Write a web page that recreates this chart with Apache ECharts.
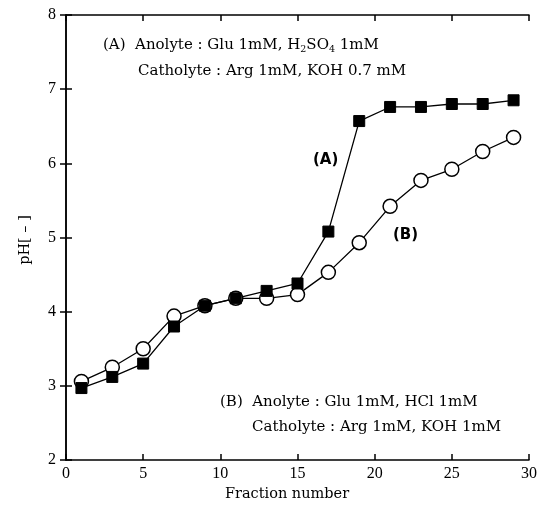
<!DOCTYPE html>
<html>
<head>
<meta charset="utf-8">
<script src="https://cdn.jsdelivr.net/npm/echarts@6/dist/echarts.min.js"></script>
<style>
  html, body { margin: 0; padding: 0; background: #fff; }
  #chart { width: 538px; height: 511px; }
</style>
</head>
<body>
<div id="chart"></div>
<script>
// fraction numbers and measured pH
const fractions = [1, 3, 5, 7, 9, 11, 13, 15, 17, 19, 21, 23, 25, 27, 29];
const phA = [2.97, 3.12, 3.30, 3.80, 4.08, 4.18, 4.28, 4.38, 5.08, 6.57, 6.76, 6.76, 6.80, 6.80, 6.85];
const phB = [3.06, 3.25, 3.50, 3.94, 4.08, 4.18, 4.18, 4.23, 4.53, 4.93, 5.42, 5.77, 5.92, 6.16, 6.35];

const serif = "'DejaVu Serif', 'Liberation Serif', serif";
const labelSerif = "'Liberation Serif', 'DejaVu Serif', serif";
const sans = "'DejaVu Sans', 'Liberation Sans', sans-serif";

const chart = echarts.init(document.getElementById('chart'));

const toPairs = (ys) => fractions.map((x, i) => [x, ys[i]]);

const line = { show: true, lineStyle: { color: '#000', width: 1.5 } };
const tick = () => ({ show: true, inside: true, length: 6, lineStyle: { color: '#000', width: 1.5 } });
const label = (margin) => ({ color: '#000', fontFamily: labelSerif, fontSize: 16, margin: margin });

const option = {
  backgroundColor: '#fff',
  animation: false,
  grid: { left: 66, right: 9, top: 15, bottom: 51, outerBoundsMode: 'none' },
  xAxis: [
    { type: 'value', min: 0, max: 30, interval: 5, position: 'bottom',
      axisLine: line, axisTick: tick(), splitLine: { show: false }, axisLabel: label(6) },
    { type: 'value', min: 0, max: 30, interval: 5, position: 'top',
      axisLine: line, axisTick: tick(), splitLine: { show: false }, axisLabel: { show: false } }
  ],
  yAxis: [
    { type: 'value', min: 2, max: 8, interval: 1, position: 'left',
      axisLine: line, axisTick: tick(), splitLine: { show: false }, axisLabel: label(10) },
    { type: 'value', min: 2, max: 8, interval: 1, position: 'right',
      axisLine: line, axisTick: tick(), splitLine: { show: false }, axisLabel: { show: false } }
  ],
  series: [
    {
      name: 'B', type: 'line', data: toPairs(phB),
      symbol: 'circle', symbolSize: 14,
      lineStyle: { color: '#000', width: 1.3 },
      itemStyle: { color: '#fff', borderColor: '#000', borderWidth: 1.5 }
    },
    {
      name: 'A', type: 'line', data: toPairs(phA),
      symbol: 'rect', symbolSize: 11,
      lineStyle: { color: '#000', width: 1.3 },
      itemStyle: { color: '#000', borderColor: '#000' }
    }
  ],
  graphic: [
    {
      type: 'text', x: 103, y: 45,
      style: {
        text: '(A)  Anolyte : Glu 1mM, H{s|2}SO{s|4} 1mM',
        font: '15px ' + serif, fill: '#000', verticalAlign: 'middle',
        rich: { s: { fontSize: 9.5, fontFamily: serif, padding: [9, 0, 0, 0] } }
      }
    },
    {
      type: 'text', x: 138, y: 71,
      style: { text: 'Catholyte : Arg 1mM, KOH 0.7 mM', font: '15px ' + serif, fill: '#000', verticalAlign: 'middle' }
    },
    {
      type: 'text', x: 313, y: 160,
      style: { text: '(A)', font: 'bold 15px ' + sans, fill: '#000', verticalAlign: 'middle' }
    },
    {
      type: 'text', x: 393, y: 235,
      style: { text: '(B)', font: 'bold 15px ' + sans, fill: '#000', verticalAlign: 'middle' }
    },
    {
      type: 'text', x: 220, y: 402,
      style: { text: '(B)  Anolyte : Glu 1mM, HCl 1mM', font: '15px ' + serif, fill: '#000', verticalAlign: 'middle' }
    },
    {
      type: 'text', x: 252, y: 427,
      style: { text: 'Catholyte : Arg 1mM, KOH 1mM', font: '15px ' + serif, fill: '#000', verticalAlign: 'middle' }
    },
    {
      type: 'text', x: 287, y: 494,
      style: { text: 'Fraction number', font: '14.5px ' + serif, fill: '#000', align: 'center', verticalAlign: 'middle' }
    },
    {
      type: 'text', x: 25, y: 240, rotation: Math.PI / 2,
      style: { text: 'pH[ – ]', font: '14.5px ' + serif, fill: '#000', align: 'center', verticalAlign: 'middle' }
    }
  ]
};

chart.setOption(option);
</script>
</body>
</html>
